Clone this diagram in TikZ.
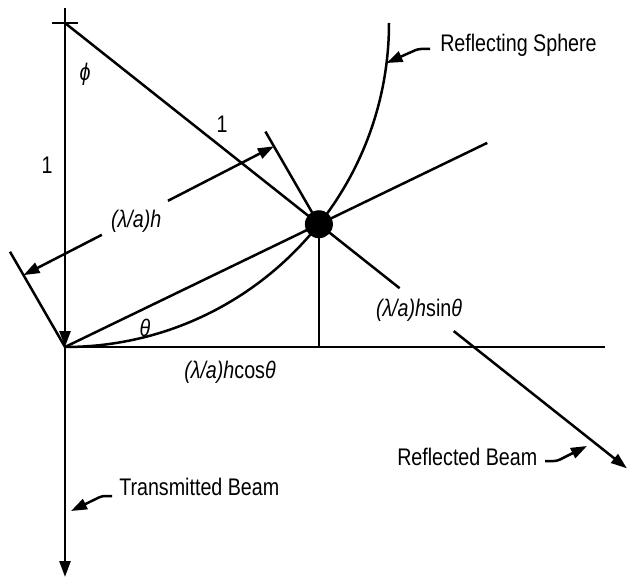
\documentclass[tikz,border=0pt]{standalone}
\usepackage{fontspec}
\setmainfont{Liberation Sans}[FakeStretch=0.82]
\usetikzlibrary{arrows.meta,calc}
\begin{document}
\begin{tikzpicture}[x=1pt,y=1pt,line width=2.5pt,line cap=butt,
  tipped/.style={-{Triangle[length=16pt,width=11pt]}},
  lbl/.style={font=\fontsize{24}{27}\selectfont,inner sep=0pt},
  leader/.style={line width=2.5pt,rounded corners=3pt,-{Triangle[length=16pt,width=11pt]}}]
\useasboundingbox (0,0) rectangle (627,-578);
% key points
\coordinate (T) at (65,-23);
\coordinate (O) at (65,-347);
\coordinate (P) at ($(T)+(-38.4:324)$);
\coordinate (Top) at (65,-8);
\coordinate (Bot) at (65,-577);
\coordinate (CL) at (52,-23);
\coordinate (CR) at (78,-23);
\coordinate (R1) at ($(T)+(-38.4:427)$);
\coordinate (R2) at ($(T)+(-38.4:496)$);
\coordinate (R3) at ($(T)+(-38.4:717)$);
\coordinate (S) at ($(O)+(25.8:469)$);
\coordinate (F) at (P |- O);
\coordinate (X) at (605,-347);
\coordinate (E1) at ($(O)+(120:110)$);
\coordinate (E2) at ($(P)+(120:107)$);
\coordinate (A1) at ($(O)+(120:83)$);
\coordinate (A2) at ($(P)+(120:90)$);
\coordinate (D1) at ($(A1)!0.313!(A2)$);
\coordinate (D2) at ($(A1)!0.577!(A2)$);
% main lines
\draw (CL) -- (CR);
\draw[tipped] (Top) -- (O);
\draw[tipped] (O) -- (Bot);
\draw (O) -- (X);
\draw (T) -- (R1);
\draw[tipped] (R2) -- (R3);
\draw (O) -- (S);
\draw (P) -- (F);
\draw (O) arc[start angle=-90,end angle=0,radius=324];
\draw (O) -- (E1);
\draw (P) -- (E2);
\draw[tipped] (D1) -- (A1);
\draw[tipped] (D2) -- (A2);
\fill (P) circle (14);
% labels
\node[lbl] (phi) at (85,-74) {\itshape ϕ};
\node[lbl] (one1) at (47,-165) {1};
\node[lbl] (one2) at (222,-124) {1};
\node[lbl] (th) at (145,-328) {\itshape θ};
\node[lbl] (h) at ($(A1)!0.45!(A2)+(0,-4)$) {\itshape (λ/a)h};
\node[lbl] (hc) at (230,-372) {{\itshape (λ/a)h}cos{\itshape θ}};
\node[lbl] (hs) at (419,-310) {{\itshape (λ/a)h}sin{\itshape θ}};
\node[lbl,anchor=west] (rs) at (439,-45) {Reflecting Sphere};
\node[lbl,anchor=west] (rb) at (396,-457) {Reflected Beam};
\node[lbl,anchor=west] (tb) at (118,-487) {Transmitted Beam};
% leaders
\coordinate (Ls) at ($(T)+(-7.1:324)$);
\draw[leader] (430,-49) -- (418,-49) -- (Ls);
\draw[leader] (545,-461) -- (557,-461) -- (587,-446);
\draw[leader] (112,-496) -- (102,-496) -- (71,-511);
\end{tikzpicture}
\end{document}
